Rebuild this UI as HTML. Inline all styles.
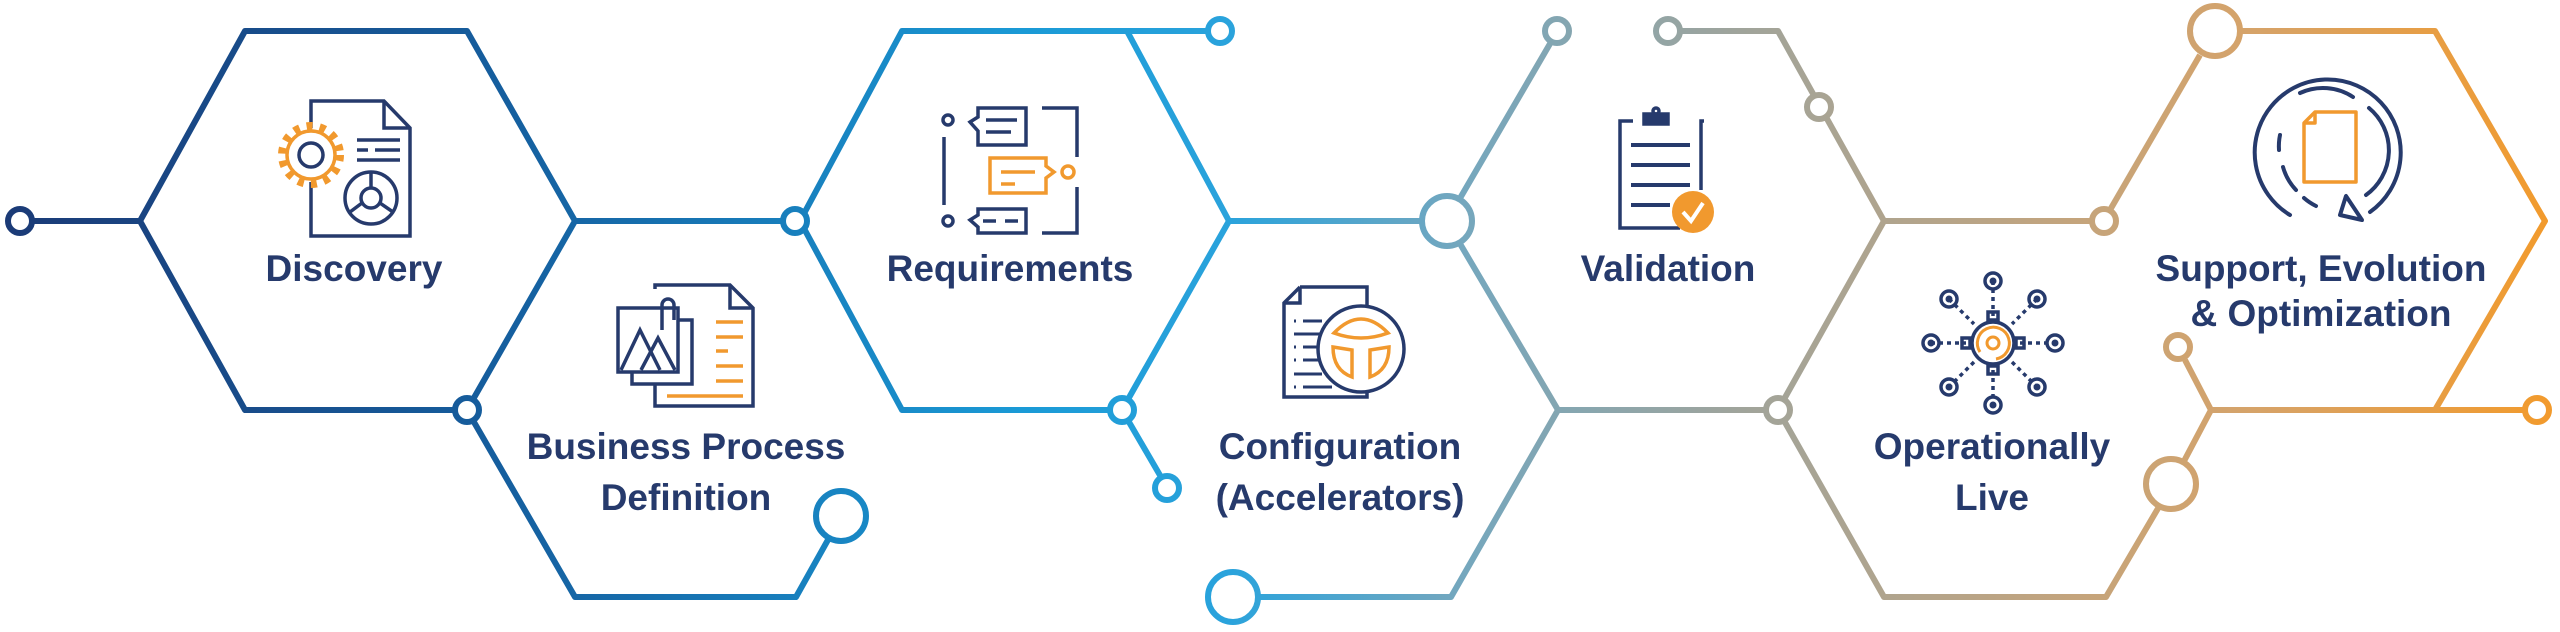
<!DOCTYPE html>
<html><head><meta charset="utf-8"><style>
html,body{margin:0;padding:0;background:#fff;}
svg{display:block;}
text{font-family:"Liberation Sans",sans-serif;font-weight:bold;fill:#263a6c;font-size:37px;text-anchor:middle;}
</style></head><body>
<svg width="2560" height="632" viewBox="0 0 2560 632" xmlns="http://www.w3.org/2000/svg">
<defs>
<linearGradient id="g" gradientUnits="userSpaceOnUse" x1="0" y1="0" x2="2560" y2="0">
<stop offset="0" stop-color="#1b3a76"/>
<stop offset="0.2" stop-color="#155f9f"/>
<stop offset="0.4" stop-color="#1a9ad6"/>
<stop offset="0.48" stop-color="#2aa3dc"/>
<stop offset="0.57" stop-color="#74a7be"/>
<stop offset="0.68" stop-color="#a0a49b"/>
<stop offset="0.8" stop-color="#c1a47f"/>
<stop offset="0.88" stop-color="#d6a369"/>
<stop offset="1" stop-color="#f39a2a"/>
</linearGradient>
</defs>
<g fill="none" stroke="url(#g)" stroke-width="6" stroke-linejoin="round">
<path d="M140,221 L245,31 L467,31 L575,221 L467,410 L245,410 Z"/>
<line x1="33" y1="221" x2="140" y2="221"/>
<line x1="575" y1="221" x2="783" y2="221"/>
<path d="M467,410 L575,597 L796,597 L829,538"/>
<path d="M800,221 L902,31 L1208,31"/>
<path d="M1127,31 L1229,221 L1122,410 L902,410 L800,221"/>
<line x1="1122" y1="410" x2="1161" y2="477"/>
<line x1="1229" y1="221" x2="1423" y2="221"/>
<path d="M1258,597 L1451,597 L1558,410 L1459,242"/>
<line x1="1459" y1="200" x2="1551" y2="42"/>
<path d="M1680,31 L1778,31 L1884,221 L1778,410 L1558,410"/>
<line x1="1884" y1="221" x2="2092" y2="221"/>
<path d="M1778,410 L1884,597 L2106,597 L2160,505"/>
<path d="M2183,463 L2211,410 L2185,360"/>
<path d="M2110,210 L2200,55"/>
<path d="M2240,31 L2435,31 L2545,221 L2435,410"/>
<line x1="2211" y1="410" x2="2525" y2="410"/>
</g>
<g fill="#fff" stroke="url(#g)" stroke-width="6">
<circle cx="20" cy="221" r="12"/>
<circle cx="467" cy="410" r="12"/>
<circle cx="795" cy="221" r="12"/>
<circle cx="841" cy="516" r="25"/>
<circle cx="1220" cy="31" r="12"/>
<circle cx="1122" cy="410" r="12"/>
<circle cx="1167" cy="488" r="12"/>
<circle cx="1233" cy="597" r="25"/>
<circle cx="1447" cy="221" r="25"/>
<circle cx="1557" cy="31" r="12"/>
<circle cx="1668" cy="31" r="12"/>
<circle cx="1819" cy="107" r="12"/>
<circle cx="1778" cy="410" r="12"/>
<circle cx="2104" cy="221" r="12"/>
<circle cx="2178" cy="347" r="12"/>
<circle cx="2171" cy="484" r="25"/>
<circle cx="2215" cy="31" r="25"/>
<circle cx="2537" cy="410" r="12"/>
</g>

<text x="354" y="281">Discovery</text>
<text x="686" y="459">Business Process</text>
<text x="686" y="510">Definition</text>
<text x="1010" y="281">Requirements</text>
<text x="1340" y="459">Configuration</text>
<text x="1340" y="510">(Accelerators)</text>
<text x="1668" y="281">Validation</text>
<text x="1992" y="459">Operationally</text>
<text x="1992" y="510">Live</text>
<text x="2321" y="281">Support, Evolution</text>
<text x="2321" y="326">&amp; Optimization</text>

<!-- Discovery icon -->
<g fill="none" stroke="#263a6c" stroke-width="3.5">
<path d="M311,128 L311,101 L384,101 L410,128 L410,236 L311,236 L311,182"/>
<path d="M384,101 L384,128 L410,128"/>
<line x1="357" y1="140" x2="400" y2="140"/><line x1="357" y1="150" x2="368" y2="150"/><line x1="375" y1="150" x2="400" y2="150"/><line x1="357" y1="160" x2="400" y2="160"/>
<circle cx="371" cy="198" r="26"/><circle cx="371" cy="198" r="10"/>
<line x1="371" y1="172" x2="371" y2="188"/><line x1="380" y1="203" x2="393" y2="212"/><line x1="362" y1="203" x2="350" y2="212"/>
<circle cx="311" cy="155" r="12"/>
</g>
<g fill="none" stroke="#f1992e" stroke-width="3.5">
<circle cx="311" cy="155" r="24"/>
<circle cx="311" cy="155" r="29" stroke-width="8" stroke-dasharray="6 7.2"/>
</g>

<!-- BPD icon -->
<g fill="none" stroke="#263a6c" stroke-width="3.5">
<path d="M655,289 L655,285 L730,285 L753,308 L753,406 L655,406 L655,384"/>
<path d="M730,285 L730,308 L753,308"/>
<rect x="632" y="320" width="60" height="64"/>
<rect x="618" y="308" width="60" height="64" fill="#fff"/>
<path d="M621,370 L640,330 L660,370"/><path d="M641,370 L658,338 L675,370"/>
<path d="M662,330 L662,305 A6,6 0 0 1 674,305 L674,320"/>
</g>
<g stroke="#f1992e" stroke-width="3.5">
<line x1="716" y1="322" x2="743" y2="322"/><line x1="716" y1="337" x2="743" y2="337"/><line x1="716" y1="351" x2="728" y2="351"/><line x1="716" y1="366" x2="743" y2="366"/><line x1="716" y1="381" x2="743" y2="381"/><line x1="667" y1="396" x2="743" y2="396"/>
</g>

<!-- Requirements icon -->
<g fill="none" stroke="#263a6c" stroke-width="3.5">
<circle cx="948" cy="120" r="5"/><circle cx="948" cy="221" r="5"/>
<line x1="944" y1="137" x2="944" y2="205"/>
<path d="M978,108 L1026,108 L1026,145 L978,145 L978,131 L970,122 L978,117 Z"/>
<line x1="986" y1="120" x2="1017" y2="120"/><line x1="986" y1="132" x2="1011" y2="132"/>
<path d="M978,209 L1026,209 L1026,233 L978,233 L978,227 L970,220 L978,215 Z"/>
<line x1="983" y1="221" x2="996" y2="221"/><line x1="1005" y1="221" x2="1018" y2="221"/>
<path d="M1042,108 L1077,108 L1077,157"/><path d="M1077,187 L1077,233 L1042,233"/>
</g>
<g fill="none" stroke="#f1992e" stroke-width="3.5">
<path d="M990,158 L1046,158 L1046,166 L1054,172 L1046,178 L1046,193 L990,193 Z"/>
<line x1="1001" y1="172" x2="1035" y2="172"/><line x1="1001" y1="184" x2="1015" y2="184"/>
<circle cx="1068" cy="172" r="6"/>
</g>

<!-- Configuration icon -->
<g fill="none" stroke="#263a6c" stroke-width="3.5">
<path d="M1300,287 L1367,287 L1367,316"/><path d="M1300,287 L1284,303 L1284,397 L1367,397 L1367,390"/>
<path d="M1284,303 L1300,303 L1300,287"/>
<g stroke-width="3"><line x1="1294" y1="321" x2="1296" y2="321"/><line x1="1303" y1="321" x2="1322" y2="321"/>
<line x1="1294" y1="334" x2="1322" y2="334"/><line x1="1294" y1="347" x2="1296" y2="347"/><line x1="1303" y1="347" x2="1318" y2="347"/>
<line x1="1294" y1="360" x2="1296" y2="360"/><line x1="1303" y1="360" x2="1318" y2="360"/>
<line x1="1294" y1="374" x2="1322" y2="374"/><line x1="1294" y1="387" x2="1296" y2="387"/><line x1="1303" y1="387" x2="1332" y2="387"/></g>
<circle cx="1361" cy="349" r="43" fill="#fff"/>
</g>
<g fill="none" stroke="#f1992e" stroke-width="3.5">
<path d="M1334,333 Q1361,305 1388,333 Q1361,343 1334,333 Z"/>
<path d="M1333,347 L1352,350 L1352,377 Q1333,370 1333,347 Z"/>
<path d="M1389,347 L1370,350 L1370,377 Q1389,370 1389,347 Z"/>
</g>

<!-- Validation icon -->
<g fill="none" stroke="#263a6c" stroke-width="3.5">
<path d="M1633,121 L1620,121 L1620,228 L1680,228"/><path d="M1704,121 L1701,121 L1701,190"/>
<rect x="1644" y="114" width="24" height="10" fill="#263a6c"/>
<circle cx="1656" cy="111" r="3"/>
</g>
<g stroke="#263a6c" stroke-width="4">
<line x1="1631" y1="145" x2="1690" y2="145"/><line x1="1631" y1="165" x2="1690" y2="165"/><line x1="1631" y1="185" x2="1690" y2="185"/><line x1="1631" y1="205" x2="1670" y2="205"/>
</g>
<circle cx="1693" cy="212" r="21" fill="#f1992e"/>
<path d="M1683,212 L1691,221 L1703,203" fill="none" stroke="#fff" stroke-width="4"/>

<!-- Ops live icon -->
<g fill="none" stroke="#263a6c" stroke-width="3.5">
<circle cx="1993" cy="343" r="21"/>
<g stroke-dasharray="4 4">
<line x1="1993" y1="281" x2="1993" y2="316"/><line x1="1993" y1="370" x2="1993" y2="405"/>
<line x1="1931" y1="343" x2="1966" y2="343"/><line x1="2020" y1="343" x2="2055" y2="343"/>
<line x1="1949" y1="299" x2="1974" y2="324"/><line x1="2012" y1="362" x2="2037" y2="387"/>
<line x1="2037" y1="299" x2="2012" y2="324"/><line x1="1974" y1="362" x2="1949" y2="387"/>
</g>
<rect x="1988" y="312" width="10" height="8"/><rect x="1988" y="366" width="10" height="8"/>
<rect x="1962" y="338" width="8" height="10"/><rect x="2016" y="338" width="8" height="10"/>
<circle cx="1993" cy="281" r="8"/><circle cx="1993" cy="405" r="8"/><circle cx="1931" cy="343" r="8"/><circle cx="2055" cy="343" r="8"/>
<circle cx="1949" cy="299" r="8"/><circle cx="2037" cy="299" r="8"/><circle cx="1949" cy="387" r="8"/><circle cx="2037" cy="387" r="8"/>
</g>
<g fill="#263a6c">
<circle cx="1993" cy="281" r="3.5"/><circle cx="1993" cy="405" r="3.5"/><circle cx="1931" cy="343" r="3.5"/><circle cx="2055" cy="343" r="3.5"/>
<circle cx="1949" cy="299" r="3.5"/><circle cx="2037" cy="299" r="3.5"/><circle cx="1949" cy="387" r="3.5"/><circle cx="2037" cy="387" r="3.5"/>
</g>
<g fill="none" stroke="#f1992e" stroke-width="3">
<path d="M1980,352 A16,16 0 1 1 1996,359"/><circle cx="1993" cy="343" r="6"/>
</g>

<!-- Support icon -->
<g fill="none" stroke="#263a6c" stroke-width="4" stroke-linecap="round">
<path d="M2290,215 A73,73 0 1 1 2370,212"/>
<path d="M2300,93 A55,55 0 0 1 2353,97"/>
<path d="M2369,108 A55,55 0 0 1 2366,195"/>
<path d="M2280,135 A55,55 0 0 0 2279,150"/>
<path d="M2283,167 A55,55 0 0 0 2296,190"/>
<path d="M2304,198 A55,55 0 0 0 2316,206"/>
<path d="M2346,196 L2340,215 L2362,220 Z" stroke-linejoin="round"/>
</g>
<g fill="none" stroke="#f1992e" stroke-width="3.5" stroke-linejoin="round">
<path d="M2315,112 L2356,112 L2356,182 L2304,182 L2304,123 Z"/>
<path d="M2304,123 L2315,123 L2315,112"/>
</g>
</svg>
</body></html>
